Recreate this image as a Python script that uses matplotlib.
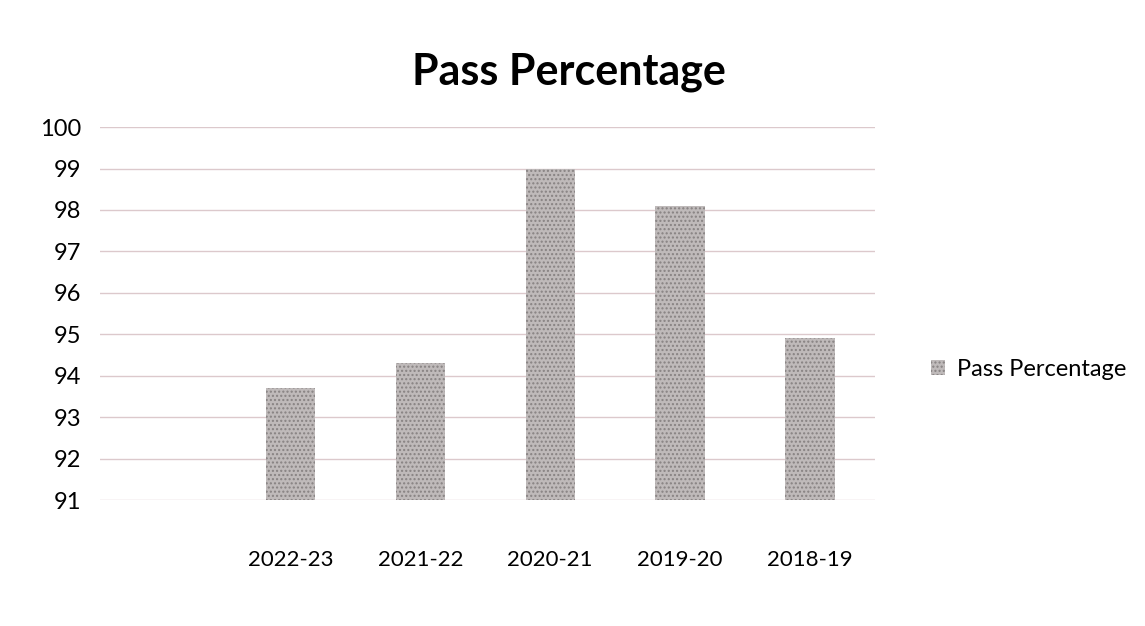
import matplotlib
matplotlib.use("Agg")
import matplotlib.pyplot as plt

categories = ["2022-23", "2021-22", "2020-21", "2019-20", "2018-19"]
pass_pct = [93.7, 94.3, 99.0, 98.1, 94.9]
series_name = "Pass Percentage"
yticks = list(range(91, 101))

plt.rcParams['font.family'] = ['Lato', 'DejaVu Sans']

fig = plt.figure(figsize=(11.45, 6.26), dpi=100)
ax = fig.add_axes([0.087, 0.201, 0.677, 0.596])

x = range(len(categories))
bars = ax.bar(x, [v - 91 for v in pass_pct], bottom=91, width=0.38,
              color="#bfbaba", edgecolor="#878282", hatch="....",
              linewidth=0, label=series_name, zorder=3)

ax.set_ylim(91, 100)
ax.set_yticks(yticks)
ax.set_xticks(list(x))
ax.set_xticklabels(categories, fontsize=16)
ax.tick_params(axis='x', length=0, pad=36)
ax.tick_params(axis='y', length=0, pad=13, labelsize=17)
for s in ax.spines.values():
    s.set_visible(False)
ax.grid(axis='y', color="#dcc9cc", linewidth=1, zorder=0)
ax.set_xlim(-1.47, 4.5)

fig.text(0.497, 0.885, "Pass Percentage", ha='center', va='center',
         fontsize=31, fontweight='bold')

leg = ax.legend(loc='center left', bbox_to_anchor=(1.045, 0.35), frameon=False,
                fontsize=17, handlelength=0.6, handleheight=0.6, handletextpad=0.5)

fig.savefig("out.png", dpi=100, facecolor="white")
